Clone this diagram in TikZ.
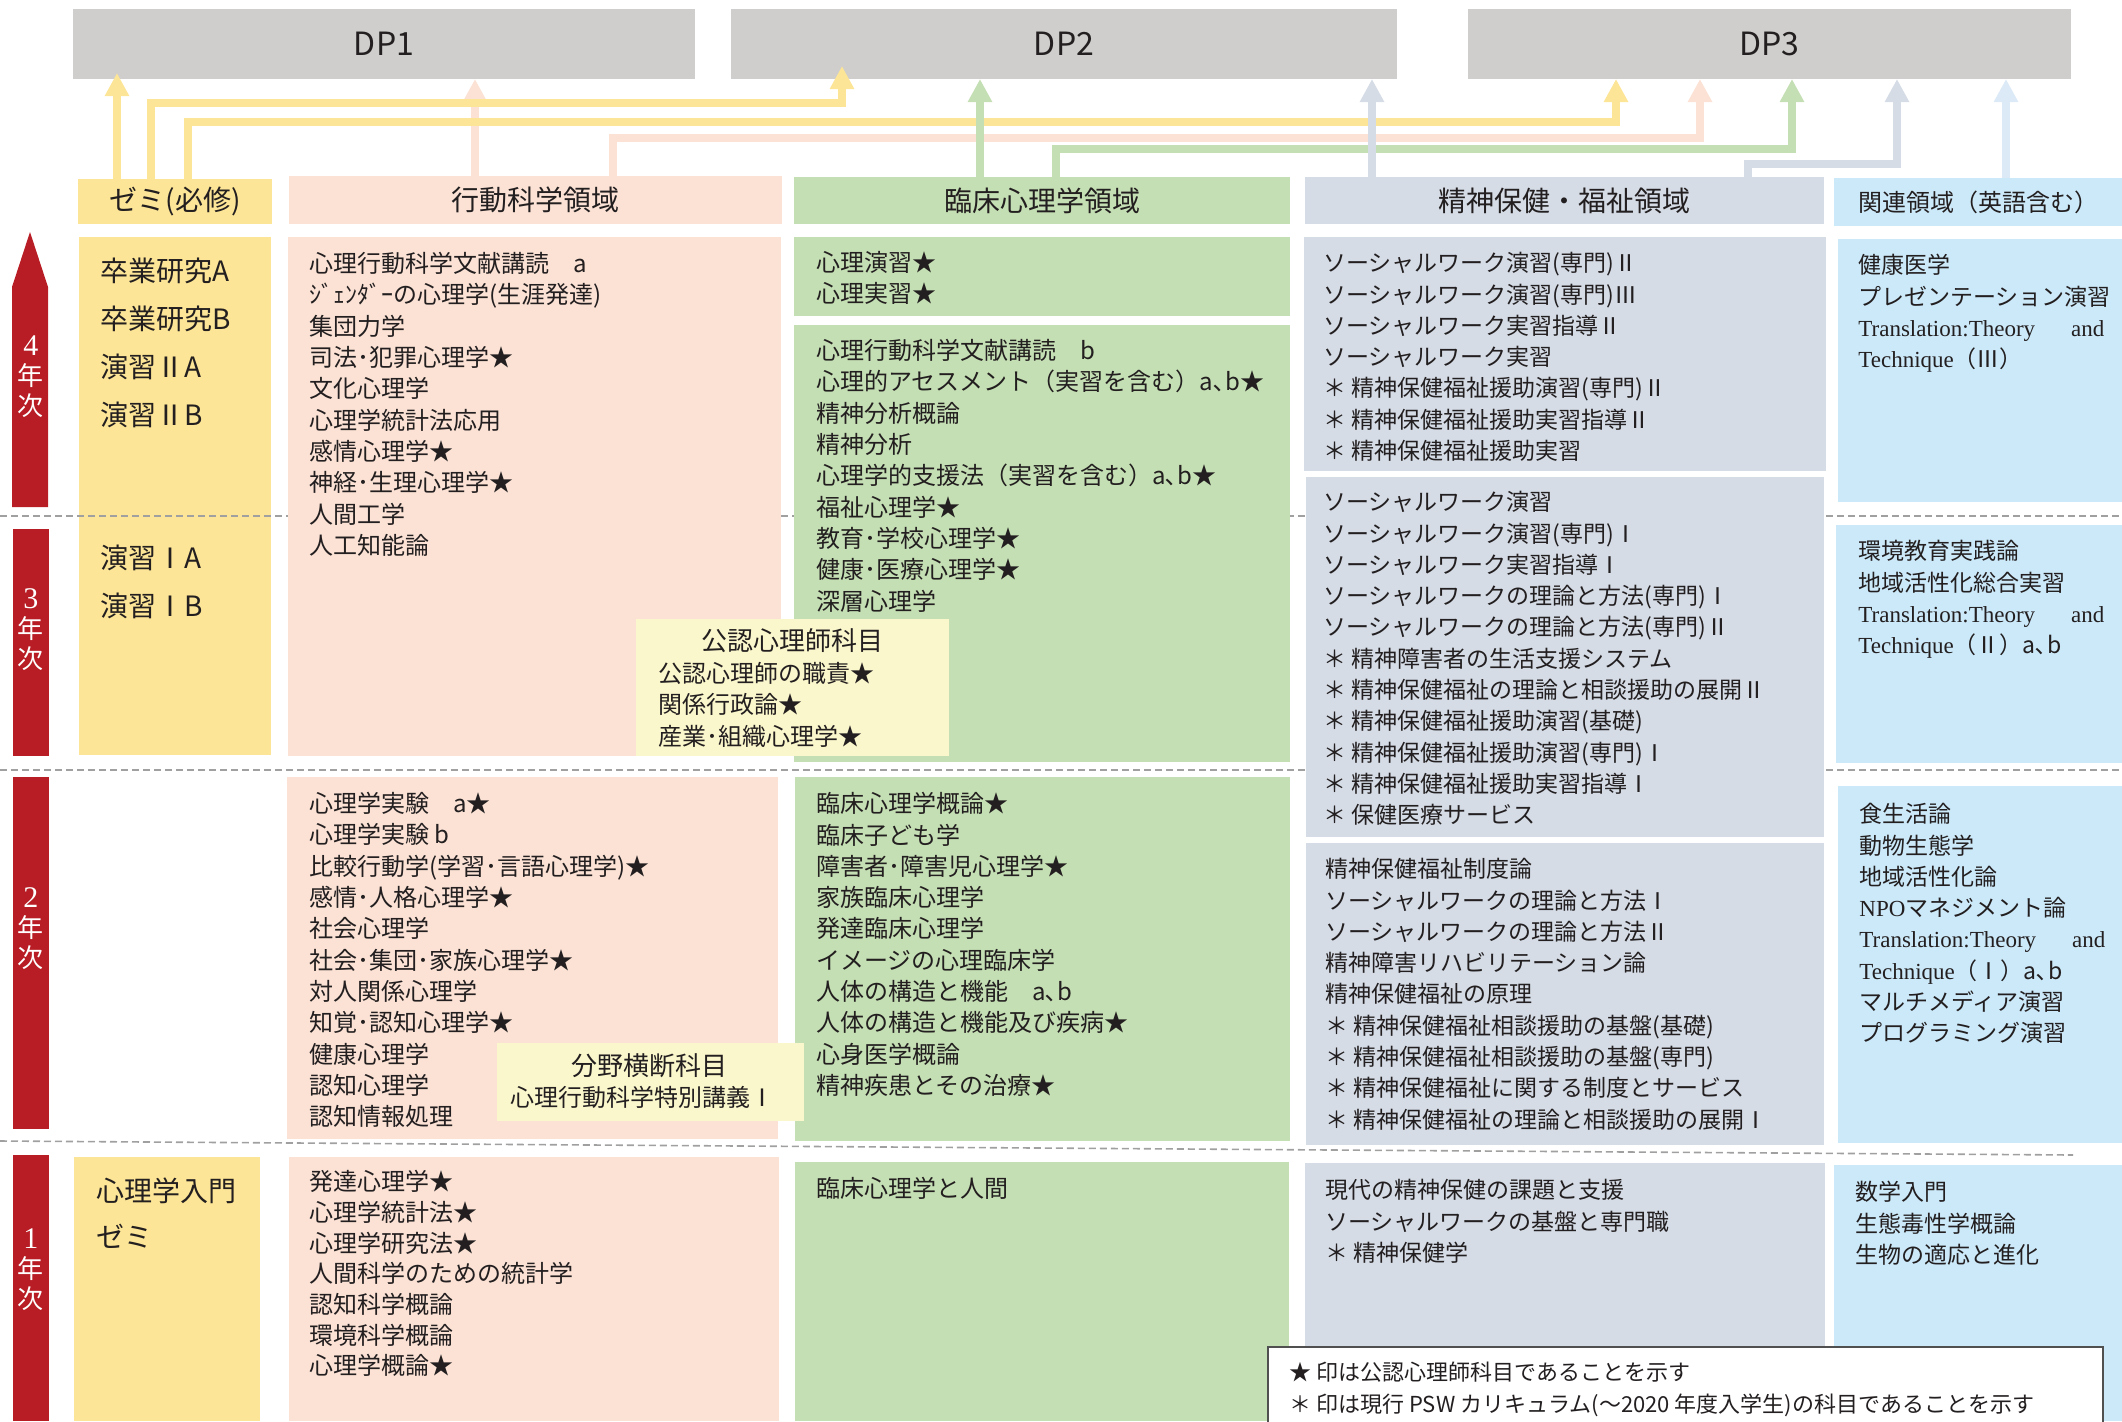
\documentclass[tikz,border=0pt]{standalone}
\usepackage{fontspec}
\setmainfont{Noto Sans CJK JP}
\newfontfamily\lat{Liberation Serif}
\usepackage{tikz}
\usetikzlibrary{arrows.meta,fit,calc}

\definecolor{dpgray}{HTML}{CFCECC}
\definecolor{zemiyel}{HTML}{FCE596}
\definecolor{behpink}{HTML}{FBE2D5}
\definecolor{cligreen}{HTML}{C5DFB4}
\definecolor{menblue}{HTML}{D5DCE6}
\definecolor{relblue}{HTML}{CCE9F9}
\definecolor{relarr}{HTML}{DBEAF6}
\definecolor{lemon}{HTML}{FBF7CC}
\definecolor{yearred}{HTML}{B81C24}
\definecolor{dashgray}{HTML}{A0A0A0}
\definecolor{legendgray}{HTML}{505050}
\definecolor{ink}{HTML}{231F20}

\begin{document}
\begin{tikzpicture}[x=0.5pt,y=-0.5pt,
	panel/.style={inner sep=0pt,outer sep=0pt,draw=none},
	hdr/.style={text=ink,font=\fontsize{14}{16}\selectfont},
	dptxt/.style={text=ink,font=\fontsize{16}{18}\selectfont},
	subj/.style={anchor=north west,inner sep=0pt,align=left,text=ink,font=\fontsize{12}{15.65}\selectfont},
	subjs/.style={subj,font=\fontsize{11.5}{15.65}\selectfont},
	zemitxt/.style={anchor=north west,inner sep=0pt,align=left,text=ink,font=\fontsize{14}{24}\selectfont},
	link/.style={line width=3.75pt,-{Triangle[width=11.5pt,length=11.5pt]}},
	yearlbl/.style={text=white,align=center,inner sep=0pt,font=\fontsize{13}{15}\selectfont},
	yearline/.style={draw=dashgray,line width=0.8pt,dash pattern=on 3.5pt off 2pt}]
	
	\useasboundingbox (0,0) rectangle (2122,1421);
	\clip (0,0) rectangle (2122,1421);
	
	% DP boxes
	\node[panel,fill=dpgray,fit={(73,9)(695,79)}] (dp1) {};
	\node[panel,fill=dpgray,fit={(731,9)(1397,79)}] (dp2) {};
	\node[panel,fill=dpgray,fit={(1468,9)(2071,79)}] (dp3) {};
	\node[dptxt] (dp1t) at (dp1) {DP1};
	\node[dptxt] (dp2t) at (dp2) {DP2};
	\node[dptxt] (dp3t) at (dp3) {DP3};
	
	% headers
	\node[panel,fill=zemiyel,fit={(78,179)(272,224)}] (zemi) {};
	\node[panel,fill=behpink,fit={(289,176)(782,224)}] (beh) {};
	\node[panel,fill=cligreen,fit={(794,177)(1290,224)}] (cli) {};
	\node[panel,fill=menblue,fit={(1305,177)(1824,224)}] (men) {};
	\node[panel,fill=relblue,fit={(1834,178)(2122,226)}] (rel) {};
	\node[hdr] (zemit) at (zemi) {ゼミ(必修)};
	\node[hdr] (beht) at (beh) {行動科学領域};
	\node[hdr] (clit) at (cli) {臨床心理学領域};
	\node[hdr] (ment) at (men) {精神保健・福祉領域};
	\node[hdr,font=\fontsize{12}{14}\selectfont] (relt) at (rel) {関連領域（英語含む）};
	
	% year arrows
	\fill[yearred] (12,507) -- (12,287) -- (30,232) -- (48,287) -- (48,507) -- cycle;
	\fill[yearred] (13,529) rectangle (49,756);
	\fill[yearred] (13,777) rectangle (49,1129);
	\fill[yearred] (13,1155) rectangle (49,1421);
	\node[yearlbl] (y4) at (31,377) {{\lat\fontsize{15}{15}\selectfont 4}\\年\\次};
	\node[yearlbl] (y3) at (31,630) {{\lat\fontsize{15}{15}\selectfont 3}\\年\\次};
	\node[yearlbl] (y2) at (31,929) {{\lat\fontsize{15}{15}\selectfont 2}\\年\\次};
	\node[yearlbl] (y1) at (31,1270) {{\lat\fontsize{15}{15}\selectfont 1}\\年\\次};
	
	% zemi 3-4 (under the dashed line)
	\node[panel,fill=zemiyel,fit={(79,237)(271,755)}] (zemiA) {};
	
	% year boundaries
	\draw[yearline] (0,516) -- (2122,516);
	\draw[yearline] (0,770) -- (2122,770);
	\draw[yearline] (0,1141) -- (2073,1155);
	
	% boxes
	\node[panel,fill=zemiyel,fit={(74,1157)(260,1421)}] (zemiB) {};
	\node[panel,fill=behpink,fit={(288,237)(781,756)}] (behA) {};
	\node[panel,fill=behpink,fit={(287,777)(778,1139)}] (behB) {};
	\node[panel,fill=behpink,fit={(289,1157)(779,1421)}] (behC) {};
	\node[panel,fill=cligreen,fit={(794,237)(1290,316)}] (cliA) {};
	\node[panel,fill=cligreen,fit={(794,325)(1290,762)}] (cliB) {};
	\node[panel,fill=cligreen,fit={(795,777)(1290,1141)}] (cliC) {};
	\node[panel,fill=cligreen,fit={(795,1162)(1289,1421)}] (cliD) {};
	\node[panel,fill=menblue,fit={(1304,237)(1826,471)}] (menA) {};
	\node[panel,fill=menblue,fit={(1306,477)(1824,837)}] (menB) {};
	\node[panel,fill=menblue,fit={(1306,843)(1824,1145)}] (menC) {};
	\node[panel,fill=menblue,fit={(1305,1163)(1825,1421)}] (menD) {};
	\node[panel,fill=relblue,fit={(1838,239)(2122,502)}] (relA) {};
	\node[panel,fill=relblue,fit={(1836,525)(2122,763)}] (relB) {};
	\node[panel,fill=relblue,fit={(1838,786)(2122,1143)}] (relC) {};
	\node[panel,fill=relblue,fit={(1834,1165)(2122,1421)}] (relD) {};
	
	% zemi
	\node[zemitxt] (zemi4) at (100,258) {卒業研究A\\卒業研究B\\演習ⅡA\\演習ⅡB};
	\node[zemitxt] (zemi3) at (100,545) {演習ⅠA\\演習ⅠB};
	\node[zemitxt,font=\fontsize{14}{23}\selectfont] (zemi1) at (96,1177) {心理学入門\\ゼミ};
	
	% behavioural science
	\node[subj] (beh4) at (309,252) {心理行動科学文献講読　a\\ｼﾞｪﾝﾀﾞｰの心理学(生涯発達)\\集団力学\\司法･犯罪心理学★\\文化心理学\\心理学統計法応用\\感情心理学★\\神経･生理心理学★\\人間工学\\人工知能論};
	\node[subj] (beh2) at (309,792) {心理学実験　a★\\心理学実験 b\\比較行動学(学習･言語心理学)★\\感情･人格心理学★\\社会心理学\\社会･集団･家族心理学★\\対人関係心理学\\知覚･認知心理学★\\健康心理学\\認知心理学\\認知情報処理};
	\node[subj,font=\fontsize{12}{15.35}\selectfont] (beh1) at (309,1170) {発達心理学★\\心理学統計法★\\心理学研究法★\\人間科学のための統計学\\認知科学概論\\環境科学概論\\心理学概論★};
	
	% clinical psychology
	\node[subj] (cli4) at (816,251) {心理演習★\\心理実習★};
	\node[subj] (cli3) at (816,339) {心理行動科学文献講読　b\\心理的アセスメント（実習を含む）a､b★\\精神分析概論\\精神分析\\心理学的支援法（実習を含む）a､b★\\福祉心理学★\\教育･学校心理学★\\健康･医療心理学★\\深層心理学};
	\node[subj] (cli2) at (816,792) {臨床心理学概論★\\臨床子ども学\\障害者･障害児心理学★\\家族臨床心理学\\発達臨床心理学\\イメージの心理臨床学\\人体の構造と機能　a､b\\人体の構造と機能及び疾病★\\心身医学概論\\精神疾患とその治療★};
	\node[subj] (cli1) at (816,1177) {臨床心理学と人間};
	
	% mental health and welfare
	\node[subjs] (men4) at (1323,252) {ソーシャルワーク演習(専門)Ⅱ\\ソーシャルワーク演習(専門)Ⅲ\\ソーシャルワーク実習指導Ⅱ\\ソーシャルワーク実習\\＊ 精神保健福祉援助演習(専門)Ⅱ\\＊ 精神保健福祉援助実習指導Ⅱ\\＊ 精神保健福祉援助実習};
	\node[subjs] (men3) at (1323,491) {ソーシャルワーク演習\\ソーシャルワーク演習(専門)Ⅰ\\ソーシャルワーク実習指導Ⅰ\\ソーシャルワークの理論と方法(専門)Ⅰ\\ソーシャルワークの理論と方法(専門)Ⅱ\\＊ 精神障害者の生活支援システム\\＊ 精神保健福祉の理論と相談援助の展開Ⅱ\\＊ 精神保健福祉援助演習(基礎)\\＊ 精神保健福祉援助演習(専門)Ⅰ\\＊ 精神保健福祉援助実習指導Ⅰ\\＊ 保健医療サービス};
	\node[subjs] (men2) at (1325,858) {精神保健福祉制度論\\ソーシャルワークの理論と方法Ⅰ\\ソーシャルワークの理論と方法Ⅱ\\精神障害リハビリテーション論\\精神保健福祉の原理\\＊ 精神保健福祉相談援助の基盤(基礎)\\＊ 精神保健福祉相談援助の基盤(専門)\\＊ 精神保健福祉に関する制度とサービス\\＊ 精神保健福祉の理論と相談援助の展開Ⅰ};
	\node[subjs] (men1) at (1325,1179) {現代の精神保健の課題と支援\\ソーシャルワークの基盤と専門職\\＊ 精神保健学};
	
	% related fields
	\node[subjs] (rel4) at (1858,254) {健康医学\\プレゼンテーション演習\\\makebox[123pt][s]{\lat Translation:Theory and}\\{\lat Technique}（Ⅲ）};
	\node[subjs] (rel3) at (1858,540) {環境教育実践論\\地域活性化総合実習\\\makebox[123pt][s]{\lat Translation:Theory and}\\{\lat Technique}（Ⅱ）a､b};
	\node[subjs] (rel2) at (1859,803) {食生活論\\動物生態学\\地域活性化論\\{\lat NPO}マネジメント論\\\makebox[123pt][s]{\lat Translation:Theory and}\\{\lat Technique}（Ⅰ）a､b\\マルチメディア演習\\プログラミング演習};
	\node[subjs] (rel1) at (1855,1181) {数学入門\\生態毒性学概論\\生物の適応と進化};
	
	% overlay boxes
	\node[panel,fill=lemon,fit={(636,619)(949,756)}] (kounin) {};
	\node[font=\fontsize{13}{15}\selectfont,text=ink] (kounint) at (792,641) {公認心理師科目};
	\node[subj] (kouninl) at (658,662) {公認心理師の職責★\\関係行政論★\\産業･組織心理学★};
	\node[panel,fill=lemon,fit={(497,1043)(804,1121)}] (bunya) {};
	\node[font=\fontsize{13}{15}\selectfont,text=ink] (bunyat) at (649,1066) {分野横断科目};
	\node[font=\fontsize{12}{14}\selectfont,text=ink] (bunyal) at (642,1097) {心理行動科学特別講義Ⅰ};
	
	% legend
	\node[panel,draw=legendgray,line width=0.8pt,fill=white,fit={(1268,1347)(2103,1440)}] (legend) {};
	\node[subj,font=\fontsize{11}{16}\selectfont] (legendt) at (1289,1362) {★ 印は公認心理師科目であることを示す\\＊ 印は現行 PSW カリキュラム(～2020 年度入学生)の科目であることを示す};
	
	% links to the DPs
	\draw[link,draw=behpink] (475,0 |- beh.north) -- (475,0 |- dp1.south);
	\draw[link,draw=behpink] (613,0 |- beh.north) |- (1700,138) -- (1700,0 |- dp3.south);
	\draw[link,draw=zemiyel] (117,0 |- zemi.north) -- ($(117,0 |- dp1.south)+(0,-6)$);
	\draw[link,draw=zemiyel] (151,0 |- zemi.north) |- (842,103) -- ($(842,0 |- dp2.south)+(0,-13)$);
	\draw[link,draw=zemiyel] (188,0 |- zemi.north) |- (1616,122) -- (1616,0 |- dp3.south);
	\draw[link,draw=cligreen] (980,0 |- cli.north) -- (980,0 |- dp2.south);
	\draw[link,draw=cligreen] (1056,0 |- cli.north) |- (1792,149) -- (1792,0 |- dp3.south);
	\draw[link,draw=menblue] (1372,0 |- men.north) -- (1372,0 |- dp2.south);
	\draw[link,draw=menblue] (1748,0 |- men.north) |- (1897,164) -- (1897,0 |- dp3.south);
	\draw[link,draw=relarr] (2006,0 |- rel.north) -- (2006,0 |- dp3.south);
	
\end{tikzpicture}
\end{document}
